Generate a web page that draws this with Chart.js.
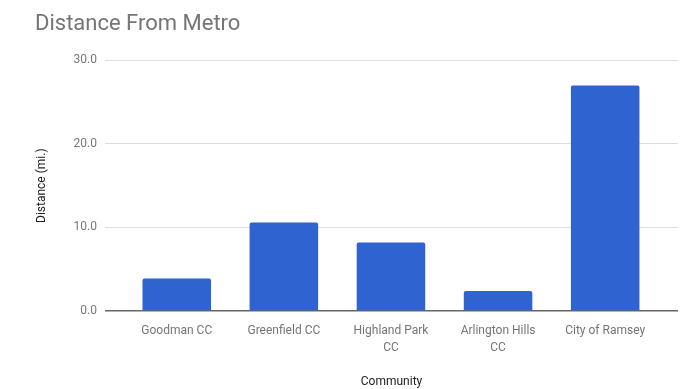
<!DOCTYPE html>
<html>
<head>
<meta charset="utf-8">
<script src="https://cdn.jsdelivr.net/npm/chart.js@4/dist/chart.umd.min.js"></script>
<style>
  html, body { margin: 0; padding: 0; background: #fff; }
  #wrap { width: 687px; height: 389px; }
</style>
</head>
<body>
<div id="wrap"><canvas id="chart"></canvas></div>
<script>
// ===== Dados =====
const communities = [
  'Goodman CC',
  'Greenfield CC',
  ['Highland Park', 'CC'],
  ['Arlington Hills', 'CC'],
  'City of Ramsey',
];
const distances = [3.9, 10.6, 8.2, 2.4, 27.0];
const yTicks = [0, 10, 20, 30];

const BAR_BLUE = '#2f63d0';

function renderChart() {
  const canvas = document.getElementById('chart');
  if (!canvas) return;

  new Chart(canvas, {
    type: 'bar',
    data: {
      datasets: [
        {
          label: 'Distance (mi.)',
          data: distances.map((d, i) => ({ x: i, y: d })),
          backgroundColor: BAR_BLUE,
          borderWidth: 0,
          borderRadius: 2,
          borderSkipped: 'bottom',
          categoryPercentage: 1,
          barPercentage: 0.64,
        },
      ],
    },
    options: {
      responsive: true,
      maintainAspectRatio: false,
      animation: false,
      layout: { padding: { left: 35, right: 9, top: 0, bottom: 0 } },
      scales: {
        x: {
          type: 'linear',
          offset: false,
          min: -0.67,
          max: 4.68,
          grid: { display: false },
          border: { display: false },
          afterBuildTicks: (scale) => {
            scale.ticks = communities.map((c, i) => ({ value: i }));
          },
          afterFit: (scale) => {
            scale.height = 78;
          },
          ticks: {
            padding: 4,
            autoSkip: false,
            maxRotation: 0,
            color: '#757575',
            font: { family: 'Roboto', size: 12, lineHeight: 1.4 },
            callback: (v) => communities[v],
          },
          title: {
            display: true,
            text: 'Community',
            color: '#222',
            padding: { top: 0, bottom: 0 },
            font: { family: 'Roboto', size: 12 },
          },
        },
        y: {
          min: 0,
          max: 30,
          afterBuildTicks: (scale) => {
            scale.ticks = yTicks.map((v) => ({ value: v }));
          },
          afterFit: (scale) => {
            scale.width = 70;
          },
          border: { display: false },
          grid: {
            drawTicks: false,
            color: (ctx) => (ctx.tick && ctx.tick.value === 0 ? '#666' : '#ddd'),
            lineWidth: (ctx) => (ctx.tick && ctx.tick.value === 0 ? 1.5 : 1),
          },
          ticks: {
            padding: 8,
            color: '#777',
            font: { family: 'Roboto', size: 12 },
            callback: (v) => v.toFixed(1),
          },
          title: {
            display: true,
            text: 'Distance (mi.)',
            color: '#222',
            padding: { top: 0, bottom: 0 },
            font: { family: 'Roboto', size: 12 },
          },
        },
      },
      plugins: {
        legend: { display: false },
        tooltip: { enabled: false },
        title: {
          display: true,
          text: 'Distance From Metro',
          align: 'start',
          color: '#757575',
          padding: { top: 11, bottom: 23 },
          font: { family: 'Roboto', size: 22, weight: 'normal' },
        },
      },
    },
  });
}

document.addEventListener('DOMContentLoaded', renderChart);
</script>
</body>
</html>
